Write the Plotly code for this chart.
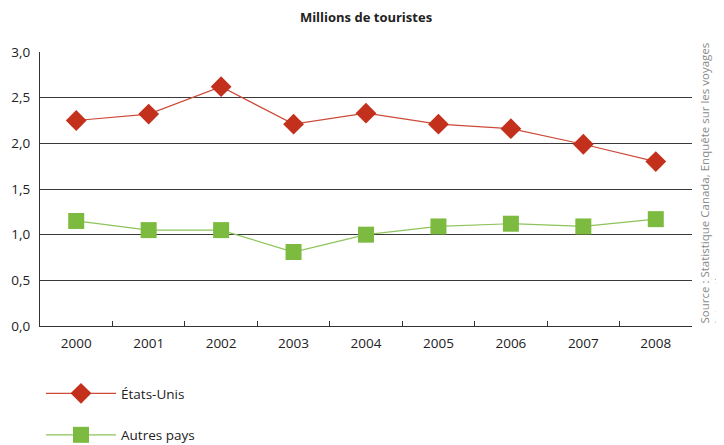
import plotly.graph_objects as go

years = ["2000", "2001", "2002", "2003", "2004", "2005", "2006", "2007", "2008"]
etats_unis = [2.25, 2.32, 2.62, 2.21, 2.33, 2.21, 2.16, 1.99, 1.80]
autres_pays = [1.15, 1.05, 1.05, 0.81, 1.00, 1.09, 1.12, 1.09, 1.17]
y_ticks = [0, 0.5, 1.0, 1.5, 2.0, 2.5, 3.0]

FONT = "Open Sans"
RED = "#c3301c"
GREEN = "#7cbb3f"

# page body has an 8px margin; figure is sized/placed to compensate
W, H = 716, 437
L, T, PW, PH = 32, 44, 652, 274

fig = go.Figure()
fig.add_trace(go.Scatter(
    x=years, y=etats_unis, name="États-Unis", mode="lines+markers",
    line=dict(color="#cc4a38", width=1.2),
    marker=dict(symbol="diamond", size=16, color=RED, line=dict(width=0)),
    legendgroup="a",
))
fig.add_trace(go.Scatter(
    x=years, y=autres_pays, name="Autres pays", mode="lines+markers",
    line=dict(color="#8cc45a", width=1.2),
    marker=dict(symbol="square", size=16, color=GREEN, line=dict(width=0)),
    legendgroup="b",
))

fig.update_layout(
    width=W, height=H,
    margin=dict(l=L, r=W - L - PW, t=T, b=H - T - PH, pad=0, autoexpand=False),
    paper_bgcolor="white", plot_bgcolor="white",
    separators=", ",
    font=dict(family=FONT, size=13, color="#222222"),
    title=dict(text="<b>Millions de touristes</b>", x=0.5, xanchor="center",
               y=1 - 9 / H, yanchor="middle",
               font=dict(family=FONT, size=13, color="#222222")),
    showlegend=True,
    legend=dict(
        x=1 / PW, xanchor="left", y=-52 / PH, yanchor="top",
        orientation="v", tracegroupgap=21, itemwidth=70,
        font=dict(family=FONT, size=13.5, color="#222222"),
        bgcolor="rgba(0,0,0,0)",
    ),
    xaxis=dict(
        type="category", range=[-0.5, 8.5],
        showgrid=False, zeroline=False,
        showline=True, linecolor="#333333", linewidth=1,
        ticks="inside", tickson="boundaries", ticklen=5, tickcolor="#333333",
        ticklabelstandoff=5,
        tickfont=dict(family=FONT, size=13.5, color="#222222"),
        fixedrange=True,
    ),
    yaxis=dict(
        range=[0, 3.0], tickvals=y_ticks, tickformat=".1f",
        showgrid=True, gridcolor="#3a3a3a", gridwidth=1,
        zeroline=False,
        showline=True, linecolor="#333333", linewidth=1,
        ticks="", ticklabelstandoff=6,
        tickfont=dict(family=FONT, size=13.5, color="#222222"),
        fixedrange=True,
    ),
)

fig.add_annotation(
    text="Source : Statistique Canada, Enquête sur les voyages<br>internationaux",
    xref="paper", yref="paper", x=(703 - L) / PW, y=0,
    xanchor="center", yanchor="bottom", textangle=-90, align="left",
    showarrow=False,
    font=dict(family=FONT, size=11.5, color="#8a8a8a"),
)

fig.write_html("out.html")
